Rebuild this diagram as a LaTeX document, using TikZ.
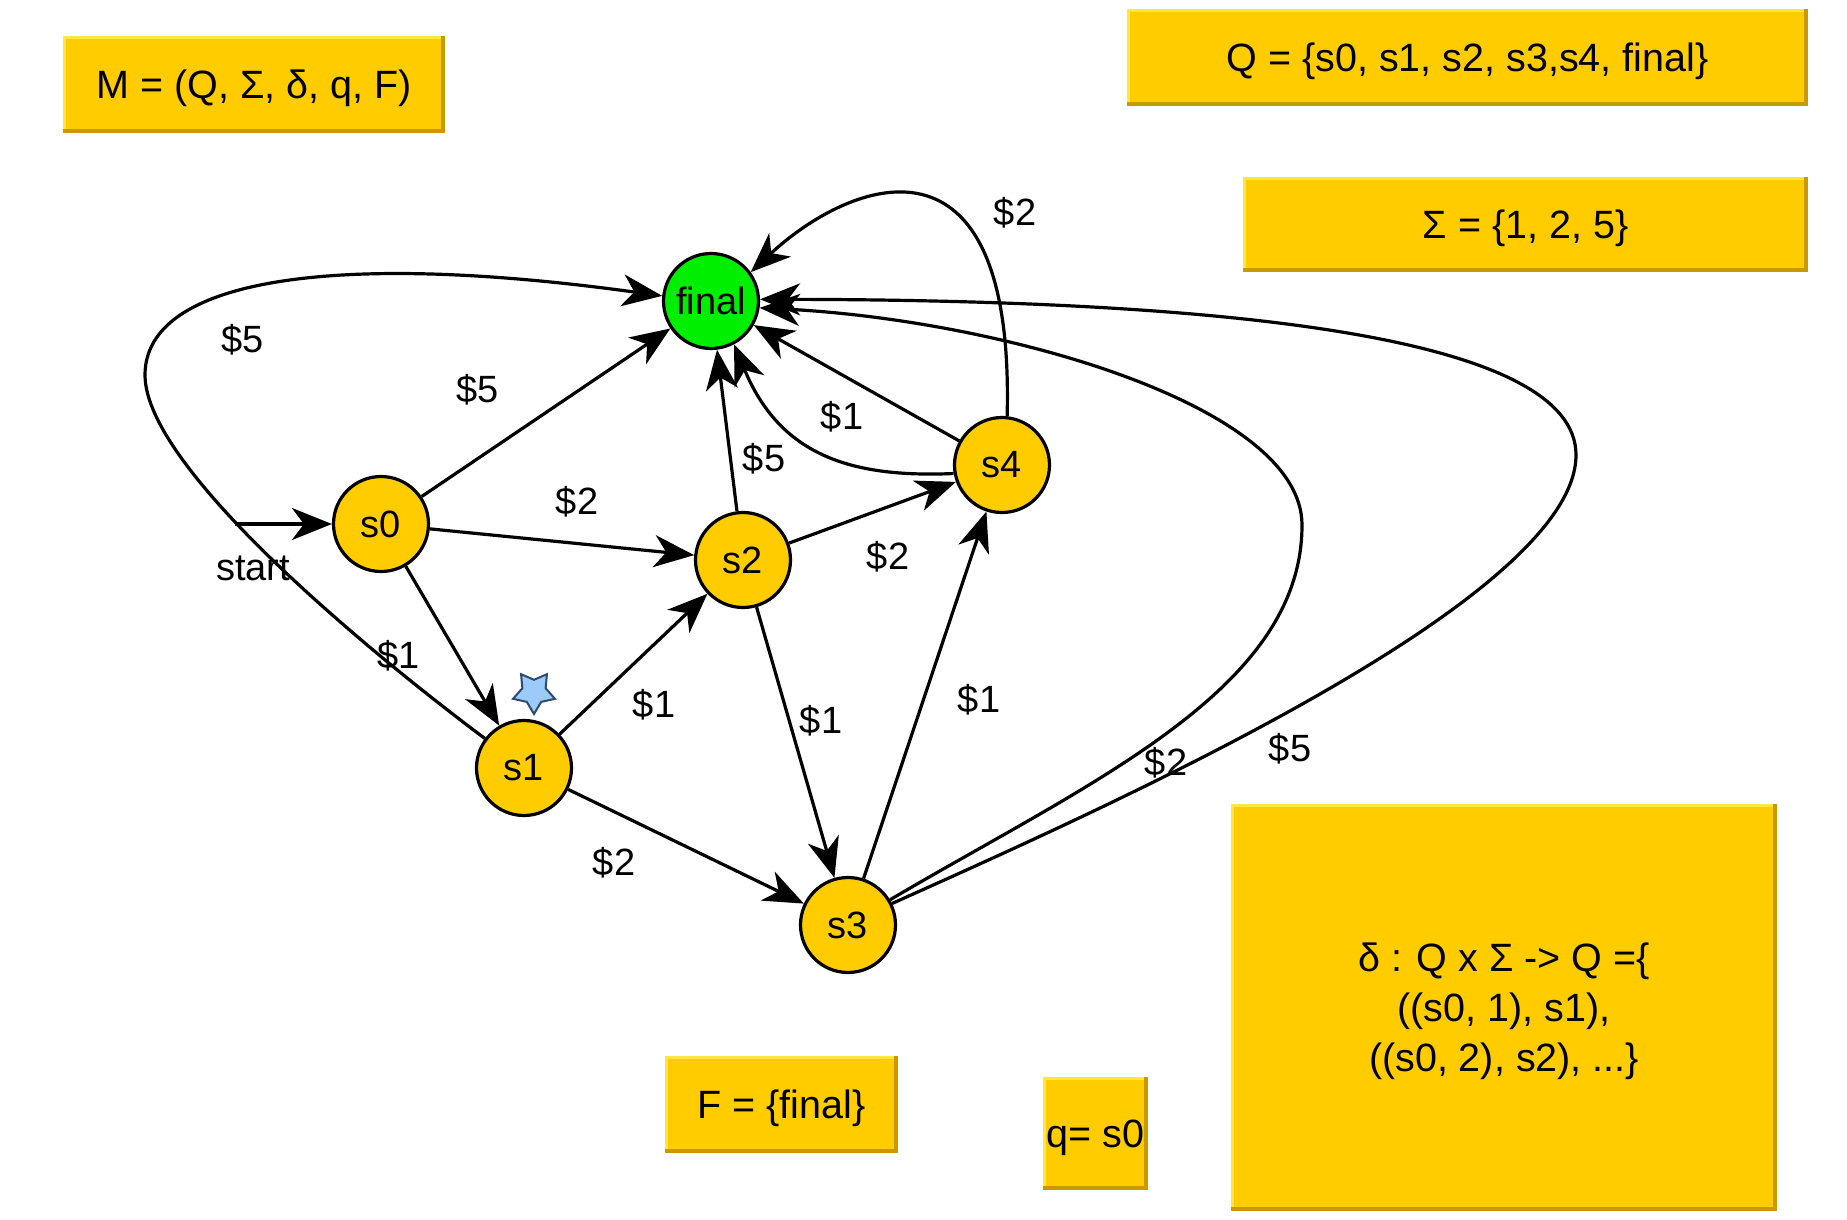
\documentclass[tikz,border=0pt]{standalone}
\usepackage{fontspec}
\setmainfont{Liberation Sans}
\usetikzlibrary{arrows.meta,shapes.geometric}

\definecolor{gold}{HTML}{FFCC00}
\definecolor{goldlight}{HTML}{FFE640}
\definecolor{golddark}{HTML}{C99A00}
\definecolor{accept}{HTML}{00EE00}
\definecolor{starblue}{HTML}{9CCBFA}
\definecolor{starline}{HTML}{2E4A6E}

% bevelled rim of a yellow panel: light on top/left, dark on bottom/right
\newcommand\panelrim[1]{%
  \draw[goldlight,line width=3pt] ([xshift=1.5pt]#1.south west) -- ([xshift=1.5pt,yshift=-1.5pt]#1.north west) -- ([yshift=-1.5pt]#1.north east);
  \draw[golddark,line width=4pt] ([xshift=-2pt]#1.north east) -- ([xshift=-2pt,yshift=2pt]#1.south east) -- ([yshift=2pt]#1.south west);}

\begin{document}
\begin{tikzpicture}[x=1pt,y=-1pt,
  state/.style={circle,draw=black,line width=3.2pt,fill=gold,minimum size=95pt,
    inner sep=0pt,font=\fontsize{38}{40}\selectfont},
  goal/.style={state,fill=accept},
  panel/.style={rectangle,fill=gold,inner sep=0pt,align=center,text depth=0pt,
    font=\fontsize{39.5}{50}\selectfont},
  trans/.style={line width=3.2pt,-{Stealth[length=40pt,width=32pt,inset=12pt]}},
  lbl/.style={font=\fontsize{38}{40}\selectfont,inner sep=0pt},
]
\useasboundingbox (0,0) rectangle (1847,1220);
\fill[white] (0,0) rectangle (1847,1220);

% definition panels
\node[panel,minimum width=382pt,minimum height=97pt] (tuple) at (254,84.5) {M = (Q, Σ, δ, q, F)};
\node[panel,minimum width=681pt,minimum height=97pt] (states) at (1467.5,57.5) {Q = \{s0, s1, s2, s3,s4, final\}};
\node[panel,minimum width=565pt,minimum height=95pt] (alphabet) at (1525.5,224.5) {Σ = \{1, 2, 5\}};
\node[panel,minimum width=546pt,minimum height=407pt] (delta) at (1504,1007.5)
  {δ : Q x Σ -> Q =\{\\((s0, 1), s1),\\((s0, 2), s2), ...\}};
\node[panel,minimum width=233pt,minimum height=97pt] (accset) at (781.5,1104.5) {F = \{final\}};
\node[panel,minimum width=105pt,minimum height=113pt] (initial) at (1095.5,1133.5) {q= s0};
\panelrim{tuple}
\panelrim{states}
\panelrim{alphabet}
\panelrim{delta}
\panelrim{accset}
\panelrim{initial}

% states
\node[goal]  (final) at (711,301) {final};
\node[state] (s0) at (381,524) {s0};
\node[state] (s1) at (524,768) {s1};
\node[state] (s2) at (743,560) {s2};
\node[state] (s3) at (848,925) {s3};
\node[state] (s4) at (1002,465) {s4};

\node[star,star points=5,star point ratio=1.8,shape border rotate=180,
  fill=starblue,draw=starline,line width=2pt,minimum size=44pt,inner sep=0pt]
  (badge) at (534,692) {};

% start arrow
\coordinate (entry) at (235,524);
\draw[trans] (entry) -- (s0) node[lbl] (lstart) at (253,568) {start};

% straight transitions
\draw[trans] (s0) -- (final) node[lbl] (l0f) at (478,390) {\$5};
\draw[trans] (s0) -- (s2)    node[lbl] (l02) at (577,502) {\$2};
\draw[trans] (s0) -- (s1)    node[lbl] (l01) at (399,656) {\$1};
\draw[trans] (s1) -- (s2)    node[lbl] (l12) at (654,705) {\$1};
\draw[trans] (s1) -- (s3)    node[lbl] (l13) at (614,863) {\$2};
\draw[trans] (s2) -- (s3)    node[lbl] (l23) at (821,721) {\$1};
\draw[trans] (s2) -- (s4)    node[lbl] (l24) at (888,557) {\$2};
\draw[trans] (s2) -- (final) node[lbl] (l2f) at (764,459) {\$5};
\draw[trans] (s3) -- (s4)    node[lbl] (l34) at (979,700) {\$1};
\draw[trans] (s4) -- (final) node[lbl] (l4f) at (842,417) {\$1};

% curved transitions
\draw[trans] (s1.143) .. controls (380,660) and (145,470) .. (145,375)
  .. controls (145,280) and (330,250) .. (final.174);
\node[lbl] (l1f) at (243,340) {\$5};

\draw[trans] (s4.84) .. controls (1015,115) and (850,180) .. (final.36);
\node[lbl] (l4loop) at (1015,213) {\$2};

\draw[trans] (s4.190) .. controls (850,478) and (780,455) .. (final.-62);

\draw[trans] (s3.31) .. controls (1090,782) and (1302,690) .. (1302,525)
  .. controls (1302,405) and (1000,320) .. (final.-8);
\node[lbl] (l3f2) at (1166,763) {\$2};

\draw[trans] (s3.26) .. controls (1100,810) and (1576,600) .. (1576,455)
  .. controls (1576,340) and (1250,300) .. (final.2);
\node[lbl] (l3f5) at (1290,749) {\$5};
\end{tikzpicture}
\end{document}
